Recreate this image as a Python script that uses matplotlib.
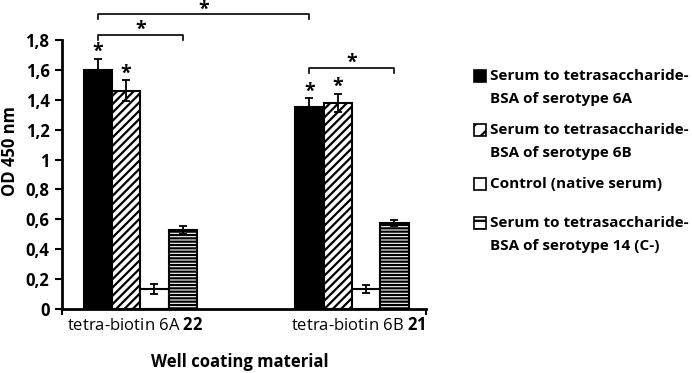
import matplotlib
matplotlib.use("Agg")
import matplotlib.pyplot as plt
import matplotlib.transforms as mtransforms
from matplotlib.patches import Rectangle
import numpy as np

plt.rcParams['font.family'] = ['Open Sans', 'DejaVu Sans']
plt.rcParams['mathtext.fontset'] = 'custom'
plt.rcParams['mathtext.bf'] = 'Open Sans:bold'
plt.rcParams['mathtext.rm'] = 'Open Sans'
plt.rcParams['hatch.linewidth'] = 1.6

groups = ["tetra-biotin 6A $\\mathbf{22}$", "tetra-biotin 6B $\\mathbf{21}$"]
series = ["Serum to tetrasaccharide-\nBSA of serotype 6A",
          "Serum to tetrasaccharide-\nBSA of serotype 6B",
          "Control (native serum)",
          "Serum to tetrasaccharide-\nBSA of serotype 14 (C-)"]
values = [[1.60, 1.35],
          [1.46, 1.38],
          [0.135, 0.135],
          [0.53, 0.575]]
errors = [[0.075, 0.06],
          [0.07, 0.06],
          [0.035, 0.025],
          [0.025, 0.022]]
star_bars = [(0, 0), (1, 0), (0, 1), (1, 1)]  # (series, group)
brackets = [((0, 0), (0, 1), 1.975, 1.94),
            ((0, 0), (3, 0), 1.835, 1.80),
            ((0, 1), (3, 1), 1.615, 1.58)]

faces = ['black', 'white', 'white', 'white']
hatches = [None, '////', None, '-----']

fig = plt.figure(figsize=(6.92, 3.73), dpi=100)
ax = fig.add_axes([62/692, 1-309/373, (426-62)/692, (309-40)/373])

w = 0.134
x = np.arange(len(groups))
offsets = (np.arange(len(series)) - 1.5) * w
for i in range(len(series)):
    ax.bar(x + offsets[i], values[i], w, color=faces[i], edgecolor='black',
           linewidth=1.5, hatch=hatches[i], label=series[i], zorder=2)
    ax.errorbar(x + offsets[i], values[i], yerr=errors[i], fmt='none',
                ecolor='black', elinewidth=1.3, capsize=3, capthick=1.3, zorder=3)

for s, g in star_bars:
    ax.text(x[g] + offsets[s], values[s][g] + errors[s][g] + 0.045, '*',
            ha='center', va='center', fontsize=14, fontweight='bold')

for (s1, g1), (s2, g2), ytop, yend in brackets:
    x1 = x[g1] + offsets[s1]
    x2 = x[g2] + offsets[s2]
    ax.plot([x1, x1, x2, x2], [yend, ytop, ytop, yend], color='black',
            lw=1.2, clip_on=False, zorder=3)
    ax.text((x1 + x2) / 2, ytop + 0.03, '*', ha='center', va='center',
            fontsize=14, fontweight='bold')

xmin = -0.37
xmax = 1.35
ax.set_xlim(xmin, xmax)
ax.set_ylim(0, 1.8)
yt = np.arange(0, 1.81, 0.2)
ax.set_yticks(yt)
ax.set_yticklabels(['0' if v == 0 else ('1' if abs(v-1) < 1e-9 else f"{v:.1f}".replace('.', ','))
                    for v in yt], fontweight='bold', fontsize=12)
ax.set_xticks([xmin, xmax], labels=['', ''])
ax.set_xticks(x, labels=groups, minor=True)
ax.tick_params(axis='x', which='minor', length=0, labelsize=12, pad=6)
ax.tick_params(axis='x', which='major', length=4, width=1.5, direction='out')
ax.tick_params(axis='y', length=5, width=1.5, direction='out', pad=4)
shifts = [-5, 6]
for lbl, dx in zip(ax.get_xticklabels(minor=True), shifts):
    lbl.set_transform(lbl.get_transform() +
                      mtransforms.ScaledTranslation(dx/100, 0, fig.dpi_scale_trans))
for sp in ['top', 'right']:
    ax.spines[sp].set_visible(False)
for sp in ['left', 'bottom']:
    ax.spines[sp].set_linewidth(2)

ax.set_ylabel('OD 450 nm', fontweight='bold', fontsize=12)
ax.yaxis.set_label_coords(-52/364, (309-151)/269)
ax.set_xlabel('Well coating material', fontweight='bold', fontsize=12)
ax.xaxis.set_label_coords((240-62)/364, -(362-309)/269)
ax.xaxis.label.set_va('center')
ax.yaxis.label.set_va('center')

# legend (manual layout, Excel style)
leg_y = [76, 130, 184, 223]
for i, yy in enumerate(leg_y):
    fy = 1 - yy / 373
    r = Rectangle((474/692, fy - 6/373), 12/692, 12/373, transform=fig.transFigure,
                  facecolor=faces[i], edgecolor='black', linewidth=1.2,
                  hatch=(hatches[i][:2] if hatches[i] else None))
    fig.add_artist(r)
    lines = series[i].split('\n')
    for k, ln in enumerate(lines):
        fig.text(490/692, 1 - (yy + k * 23) / 373, ln, ha='left', va='center',
                 fontsize=11, fontweight='bold')

fig.savefig('out.png', dpi=100)
